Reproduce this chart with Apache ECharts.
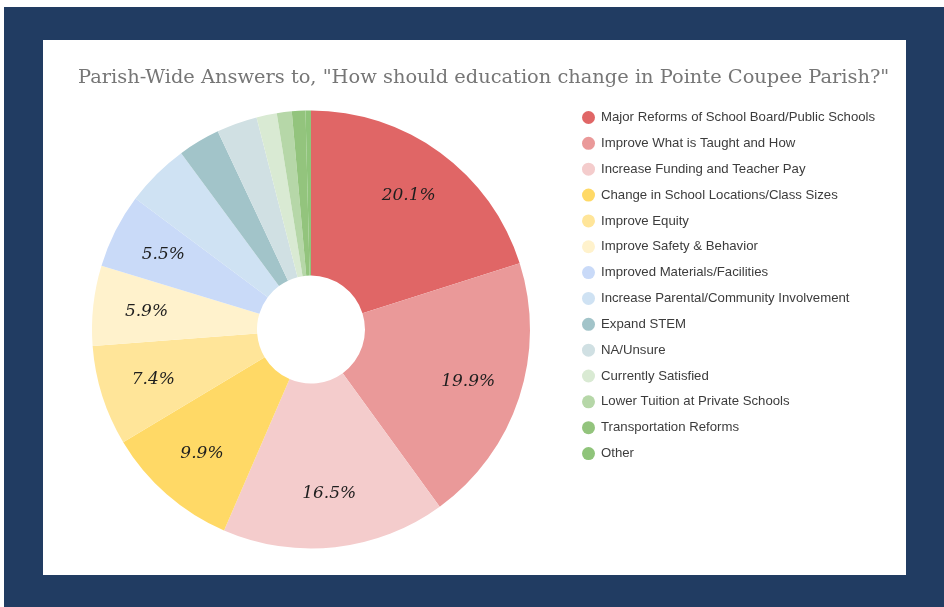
<!DOCTYPE html>
<html>
<head>
<meta charset="utf-8">
<script src="https://cdn.jsdelivr.net/npm/echarts@6/dist/echarts.min.js"></script>
<style>
  html, body { margin: 0; padding: 0; background: #ffffff; }
  #frame { position: absolute; left: 4px; top: 7px; width: 940px; height: 600px; background: #213c62; }
  #chart { position: absolute; left: 43px; top: 40px; width: 863px; height: 535px; background: #ffffff; }
</style>
</head>
<body>
<div id="frame"></div>
<div id="chart"></div>
<script>
// Survey answers, share of responses (%)
const categories = [
  'Major Reforms of School Board/Public Schools',
  'Improve What is Taught and How',
  'Increase Funding and Teacher Pay',
  'Change in School Locations/Class Sizes',
  'Improve Equity',
  'Improve Safety & Behavior',
  'Improved Materials/Facilities',
  'Increase Parental/Community Involvement',
  'Expand STEM',
  'NA/Unsure',
  'Currently Satisfied',
  'Lower Tuition at Private Schools',
  'Transportation Reforms',
  'Other'
];
const shares = [20.1, 19.9, 16.5, 9.9, 7.4, 5.9, 5.5, 4.7, 3.1, 3.0, 1.5, 1.1, 1.0, 0.4];
const palette = [
  '#e06666', '#ea9999', '#f4cccc', '#ffd966', '#ffe599', '#fff2cc',
  '#c9daf8', '#cfe2f3', '#a2c4c9', '#d0e0e3', '#d9ead3', '#b6d7a8',
  '#93c47d', '#8fc47a'
];
const labelMin = 5; // smaller slices carry no percentage label

const pieData = categories.map((name, i) => ({ name, value: shares[i] }));

const chart = echarts.init(document.getElementById('chart'));
chart.setOption({
  color: palette,
  animation: false,
  title: {
    text: 'Parish-Wide Answers to, "How should education change in Pointe Coupee Parish?"',
    left: 35,
    top: 28,
    padding: 0,
    textStyle: {
      fontFamily: 'DejaVu Serif',
      fontWeight: 'normal',
      fontSize: 19.4,
      color: '#767676'
    }
  },
  legend: {
    orient: 'vertical',
    left: 534,
    top: 66,
    icon: 'circle',
    itemWidth: 13,
    itemHeight: 13,
    itemGap: 12.85,
    data: categories,
    textStyle: { fontFamily: 'Liberation Sans', fontSize: 13.2, color: '#3c3c3c', padding: [0, 0, 0, 1] }
  },
  series: [
    {
      // coloured slices
      type: 'pie',
      center: [268, 289.5],
      radius: [54, 219],
      startAngle: 90,
      clockwise: true,
      avoidLabelOverlap: false,
      label: { show: false },
      labelLine: { show: false },
      emphasis: { disabled: true },
      data: pieData
    },
    {
      // percentage labels set a little further out than the ring's middle
      type: 'pie',
      center: [268, 289.5],
      radius: [106, 219],
      startAngle: 90,
      clockwise: true,
      silent: true,
      avoidLabelOverlap: false,
      itemStyle: { color: 'rgba(0,0,0,0)' },
      labelLine: { show: false },
      emphasis: { disabled: true },
      label: {
        show: true,
        position: 'inside',
        fontFamily: 'DejaVu Serif',
        fontStyle: 'italic',
        fontSize: 17,
        color: '#1e1e1e',
        formatter: p => (p.value >= labelMin ? p.value.toFixed(1) + '%' : '')
      },
      data: pieData
    }
  ]
});
</script>
</body>
</html>
